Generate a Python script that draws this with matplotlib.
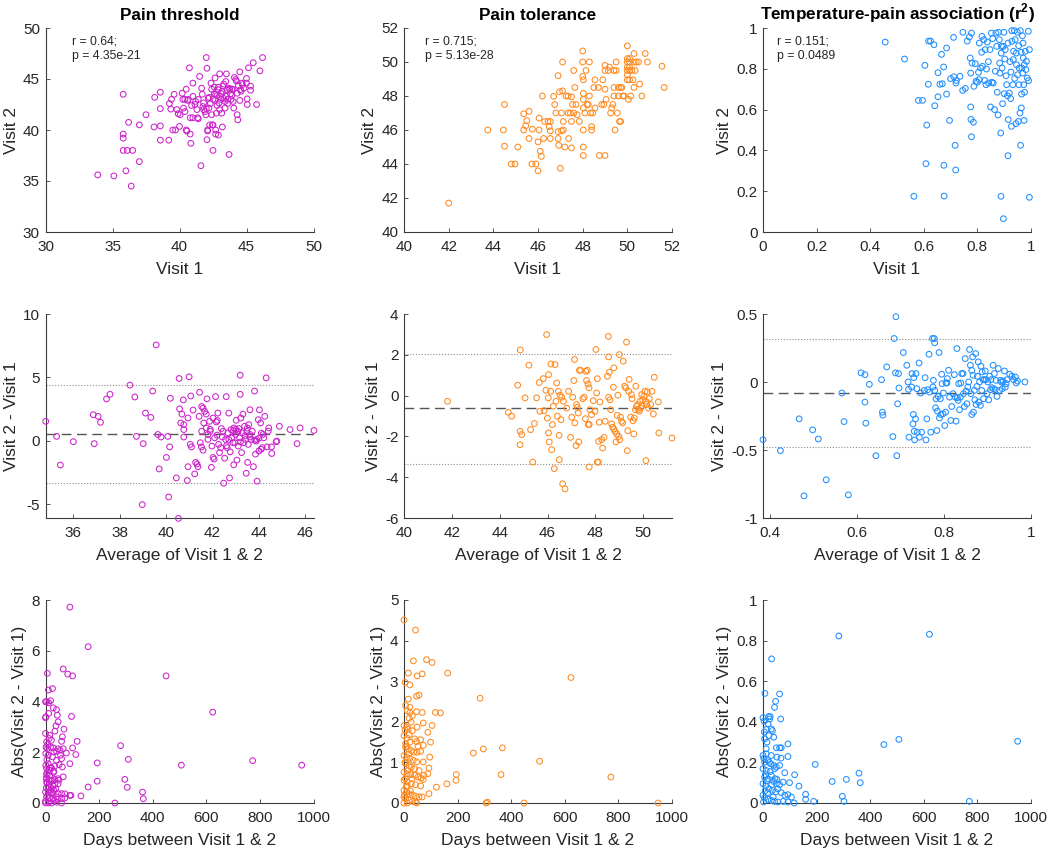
import numpy as np
import matplotlib
matplotlib.use("Agg")
import matplotlib.pyplot as plt
from matplotlib.ticker import FuncFormatter

# ---- data (x, y pairs) ----

# row 1: visit 1 vs visit 2
pt_visits = [
    (33.9, 35.6), (35.1, 35.5), (36.4, 34.5), (36.0, 36.0), (37.0, 36.9), (35.8, 43.5),
    (35.8, 39.6), (35.8, 39.2), (35.8, 38.0), (36.1, 38.0), (36.5, 38.0), (36.2, 40.75),
    (37.0, 40.5), (37.5, 41.5), (38.1, 40.3), (38.15, 43.2), (38.57, 43.7), (38.57, 42.1),
    (38.57, 40.4), (38.57, 39.0), (39.2, 39.0), (39.25, 42.6), (39.4, 43.0), (39.6, 43.5),
    (39.5, 40.0), (39.7, 40.0), (39.35, 42.05), (40.0, 40.35), (39.8, 42.0), (40.05, 41.5),
    (40.2, 43.6), (40.25, 43.0), (40.3, 42.15), (40.4, 43.0), (40.5, 44.0), (40.5, 40.0),
    (40.55, 39.9), (40.74, 46.1), (40.65, 43.0), (40.8, 41.2), (40.8, 39.6), (40.85, 38.7),
    (41.0, 43.3), (41.0, 44.6), (41.15, 42.5), (41.3, 42.0), (41.35, 41.2), (41.4, 43.0),
    (41.5, 45.25), (41.6, 36.5), (41.65, 44.1), (41.75, 42.3), (41.8, 42.65), (41.9, 41.8),
    (41.97, 41.5), (42.0, 47.1), (42.05, 46.05), (42.05, 39.05), (42.1, 39.9), (42.15, 43.1),
    (42.2, 42.15), (42.25, 40.5), (42.35, 44.6), (42.4, 44.0), (42.45, 40.5), (42.5, 38.0),
    (42.6, 43.55), (42.65, 45.1), (42.65, 42.9), (42.7, 40.0), (42.7, 39.6), (42.75, 41.65),
    (42.8, 43.4), (42.9, 43.95), (42.95, 42.65), (43.0, 45.5), (43.0, 43.3), (43.1, 43.0),
    (43.15, 41.65), (43.2, 43.8), (43.25, 44.3), (43.3, 43.1), (43.4, 42.15), (43.45, 44.75),
    (43.5, 45.5), (43.55, 43.95), (43.6, 43.0), (43.7, 37.6), (43.75, 44.0), (43.8, 43.55),
    (43.85, 43.0), (43.9, 44.0), (44.0, 42.8), (44.05, 42.15), (44.1, 45.15), (44.2, 44.95),
    (44.25, 44.8), (44.3, 41.5), (44.35, 41.0), (44.4, 44.35), (44.5, 45.7), (44.55, 43.95),
    (44.6, 43.8), (44.65, 44.6), (44.7, 44.45), (45.0, 45.05), (45.0, 44.6), (45.05, 43.05),
    (45.05, 42.5), (45.15, 46.1), (45.3, 44.3), (45.5, 46.6), (45.75, 42.5), (46.0, 45.8),
    (46.2, 47.1), (42.5, 43.0), (42.7, 43.5), (42.9, 44.2), (43.1, 43.6), (43.3, 44.5),
    (43.5, 43.3), (43.7, 44.1), (43.9, 43.4), (42.8, 42.4), (43.0, 42.0), (42.4, 41.5),
    (42.0, 42.1), (41.8, 42.0), (42.3, 42.6), (43.4, 42.8), (44.0, 44.0), (44.3, 43.6),
    (42.6, 44.2), (42.2, 43.2), (41.7, 43.5), (41.2, 42.8), (40.9, 42.4), (41.0, 41.2),
    (43.2, 40.3), (42.9, 39.5), (42.5, 40.5), (42.1, 40.0), (43.6, 42.6), (44.5, 42.9),
    (44.8, 44.1), (45.3, 43.9), (41.4, 41.1), (40.4, 41.8), (39.9, 41.6), (40.6, 42.9),
]

tol_visits = [
    (42.0, 41.7), (43.75, 46.0), (44.45, 46.0), (44.5, 47.5), (44.5, 45.05), (44.8, 44.0),
    (44.97, 44.0), (45.1, 45.0), (45.36, 46.95), (45.36, 46.0), (45.45, 46.25), (45.5, 46.55),
    (45.6, 47.1), (45.6, 45.5), (45.75, 46.05), (45.73, 44.0), (45.9, 44.0), (46.0, 43.6),
    (46.0, 45.3), (46.05, 46.7), (46.05, 46.0), (46.1, 44.75), (46.15, 44.45), (46.2, 48.0),
    (46.25, 45.5), (46.3, 46.5), (46.45, 46.5), (46.5, 46.2), (46.55, 45.5), (46.55, 45.95),
    (46.55, 46.5), (46.7, 47.98), (46.75, 47.5), (46.8, 47.0), (46.9, 49.2), (46.9, 45.9),
    (46.9, 45.5), (46.93, 45.1), (46.96, 48.25), (47.0, 43.75), (47.05, 47.0), (47.05, 45.95),
    (47.1, 50.0), (47.1, 48.3), (47.13, 46.5), (47.13, 46.0), (47.2, 45.0), (47.25, 48.0),
    (47.35, 48.0), (47.35, 47.0), (47.37, 45.5), (47.45, 47.0), (47.5, 47.95), (47.5, 46.5),
    (47.5, 44.95), (47.55, 47.5), (47.6, 49.5), (47.6, 47.0), (47.65, 48.5), (47.7, 47.5),
    (47.75, 46.9), (47.85, 46.5), (48.0, 50.65), (48.0, 50.0), (48.0, 49.15), (48.03, 48.95),
    (48.03, 48.15), (48.03, 47.8), (48.03, 47.3), (48.03, 46.0), (48.03, 45.0), (48.03, 44.5),
    (48.1, 47.0), (48.15, 49.5), (48.2, 47.5), (48.25, 47.5), (48.3, 50.0), (48.3, 48.0),
    (48.35, 47.0), (48.4, 46.2), (48.4, 46.0), (48.45, 47.0), (48.5, 48.5), (48.55, 47.3),
    (48.55, 48.95), (48.7, 48.5), (48.75, 44.5), (48.85, 47.5), (48.9, 48.95), (48.95, 47.5),
    (49.0, 44.5), (49.0, 49.8), (49.0, 49.5), (49.0, 48.4), (49.05, 47.8), (49.15, 49.5),
    (49.2, 49.7), (49.25, 47.0), (49.3, 47.3), (49.35, 47.5), (49.4, 48.0), (49.4, 49.5),
    (49.4, 48.5), (49.45, 46.0), (49.5, 49.5), (49.5, 50.0), (49.55, 47.0), (49.6, 48.5),
    (49.6, 48.0), (49.65, 46.5), (49.7, 48.5), (49.7, 46.5), (49.75, 48.5), (49.8, 48.0),
    (49.85, 48.0), (50.0, 50.95), (50.0, 50.2), (50.0, 50.0), (50.0, 49.7), (50.0, 49.5),
    (50.0, 49.25), (50.0, 48.95), (50.05, 47.8), (50.1, 50.2), (50.1, 50.0), (50.1, 49.7),
    (50.1, 49.5), (50.1, 48.95), (50.15, 48.0), (50.2, 49.5), (50.25, 48.95), (50.3, 50.5),
    (50.3, 48.5), (50.3, 50.0), (50.35, 49.5), (50.4, 50.0), (50.5, 50.0), (50.55, 48.7),
    (50.65, 48.0), (50.8, 50.5), (50.9, 50.0), (51.55, 49.75), (51.65, 48.5),
]

tmp_visits = [
    (0.456, 0.931), (0.528, 0.848), (0.580, 0.645), (0.595, 0.645), (0.563, 0.175), (0.604, 0.817),
    (0.608, 0.335), (0.611, 0.524), (0.617, 0.724), (0.618, 0.936), (0.625, 0.936), (0.638, 0.918),
    (0.641, 0.619), (0.653, 0.663), (0.653, 0.781), (0.660, 0.724), (0.666, 0.871), (0.669, 0.727),
    (0.674, 0.809), (0.675, 0.327), (0.676, 0.176), (0.685, 0.676), (0.685, 0.902), (0.696, 0.547),
    (0.700, 0.752), (0.711, 0.954), (0.712, 0.761), (0.717, 0.425), (0.719, 0.304), (0.720, 0.730),
    (0.722, 0.743), (0.735, 0.763), (0.745, 0.694), (0.746, 0.979), (0.755, 0.704), (0.762, 0.936),
    (0.770, 0.956), (0.773, 0.853), (0.775, 0.779), (0.775, 0.613), (0.776, 0.552), (0.778, 0.467),
    (0.778, 0.975), (0.780, 0.828), (0.785, 0.538), (0.787, 0.714), (0.792, 0.825), (0.795, 0.739),
    (0.800, 0.734), (0.804, 0.783), (0.807, 0.926), (0.807, 0.747), (0.812, 0.804), (0.816, 0.881),
    (0.817, 0.959), (0.819, 0.812), (0.824, 0.943), (0.827, 0.743), (0.829, 0.894), (0.832, 0.722),
    (0.834, 0.799), (0.837, 0.931), (0.841, 0.835), (0.842, 0.730), (0.847, 0.894), (0.849, 0.613),
    (0.852, 0.975), (0.854, 0.734), (0.857, 0.948), (0.859, 0.730), (0.864, 0.600), (0.867, 0.788),
    (0.869, 0.975), (0.872, 0.910), (0.874, 0.685), (0.877, 0.574), (0.879, 0.979), (0.882, 0.943),
    (0.883, 0.828), (0.884, 0.779), (0.887, 0.485), (0.888, 0.175), (0.889, 0.877), (0.890, 0.910),
    (0.892, 0.804), (0.894, 0.629), (0.897, 0.065), (0.897, 0.910), (0.899, 0.979), (0.900, 0.678),
    (0.902, 0.848), (0.904, 0.894), (0.907, 0.766), (0.909, 0.722), (0.912, 0.668), (0.914, 0.374),
    (0.914, 0.926), (0.915, 0.551), (0.919, 0.681), (0.922, 0.835), (0.924, 0.654), (0.925, 0.784),
    (0.927, 0.518), (0.928, 0.987), (0.929, 0.935), (0.932, 0.722), (0.934, 0.845), (0.935, 0.886),
    (0.938, 0.987), (0.939, 0.753), (0.941, 0.943), (0.944, 0.531), (0.945, 0.877), (0.946, 0.820),
    (0.949, 0.979), (0.950, 0.771), (0.953, 0.542), (0.954, 0.913), (0.955, 0.722), (0.956, 0.804),
    (0.959, 0.583), (0.960, 0.987), (0.961, 0.425), (0.963, 0.881), (0.964, 0.608), (0.965, 0.676),
    (0.966, 0.804), (0.968, 0.962), (0.969, 0.779), (0.970, 0.926), (0.971, 0.853), (0.973, 0.722),
    (0.974, 0.547), (0.975, 0.820), (0.976, 0.685), (0.979, 0.886), (0.981, 0.796), (0.983, 0.837),
    (0.986, 0.755), (0.990, 0.984), (0.991, 0.742), (0.994, 0.894), (0.994, 0.170),
]

# row 2: Bland-Altman (average, difference)
pt_ba = [
    (34.81, 1.53), (35.28, 0.34), (35.44, -1.92), (36.0, -0.08), (36.86, 2.05), (36.9, -0.23),
    (37.07, 1.92), (37.17, 1.45), (37.43, 3.30), (37.58, 3.66), (38.44, 4.39), (38.65, 3.45),
    (38.72, 0.34), (38.97, -5.04), (39.01, -0.23), (39.11, 2.18), (39.34, 1.84), (39.42, 3.92),
    (39.57, 7.56), (39.64, 0.49), (39.70, -2.23), (39.78, 0.29), (40.07, 0.34), (40.01, -1.32),
    (40.11, -4.44), (40.15, -0.49), (40.18, 3.35), (40.44, -2.94), (40.53, -6.13), (40.56, 4.91),
    (40.58, 2.52), (40.63, 1.40), (40.68, 2.10), (40.74, 3.22), (40.76, 1.27), (40.76, 0.88),
    (40.76, 0.29), (40.91, -3.14), (40.94, -2.05), (40.94, 1.79), (40.99, 5.04), (41.04, -0.29),
    (41.06, 3.53), (41.09, -0.49), (41.16, 2.42), (41.23, -2.62), (41.27, -1.71), (41.33, -1.84),
    (41.37, -2.05), (41.42, 1.92), (41.44, 3.82), (41.47, -0.16), (41.52, -0.49), (41.53, 2.70),
    (41.53, 0.75), (41.59, 2.57), (41.59, -0.75), (41.62, 1.40), (41.66, 2.31), (41.73, 2.10),
    (41.73, 1.01), (41.76, 3.30), (41.80, 0.10), (41.80, 0.49), (41.87, 1.53), (41.90, 0.75),
    (41.95, -2.10), (41.97, -0.42), (42.02, 1.79), (42.02, -1.32), (42.07, -1.45), (42.09, 0.23),
    (42.13, 3.48), (42.16, 1.48), (42.19, 0.44), (42.23, 2.18), (42.26, -0.29), (42.30, -0.94),
    (42.35, -0.55), (42.38, 0.96), (42.42, 0.29), (42.45, 0.75), (42.48, -3.35), (42.52, -1.38),
    (42.56, 0.10), (42.59, 3.48), (42.63, -0.55), (42.66, 0.62), (42.70, 2.18), (42.73, -2.94),
    (42.76, -0.88), (42.80, 0.88), (42.83, 0.23), (42.88, -0.16), (42.91, -1.90), (42.92, 1.01),
    (42.96, -0.16), (42.99, 0.49), (43.02, 1.61), (43.05, -1.53), (43.08, 0.75), (43.11, -0.42),
    (43.13, 0.96), (43.16, 0.23), (43.19, 3.66), (43.19, 5.17), (43.22, 1.79), (43.25, -0.94),
    (43.28, 0.62), (43.31, 2.10), (43.34, -0.16), (43.38, 1.14), (43.42, 0.10), (43.45, -2.57),
    (43.48, 0.75), (43.51, -1.71), (43.54, -0.29), (43.56, 1.27), (43.61, 2.44), (43.62, 0.49),
    (43.66, 0.10), (43.71, 0.75), (43.76, -2.05), (43.81, 3.92), (43.82, 0.03), (43.85, -1.06),
    (43.88, -0.03), (43.92, -3.19), (43.97, 1.66), (44.0, -0.81), (44.02, 2.44), (44.07, 1.40),
    (44.09, -0.68), (44.14, -0.55), (44.17, 0.49), (44.21, 0.23), (44.25, 1.92), (44.31, 4.96),
    (44.35, -0.49), (44.40, 0.75), (44.42, 1.01), (44.54, -0.49), (44.55, -1.01), (44.74, -0.08),
    (44.77, -0.03), (44.88, 1.14), (45.34, 0.88), (45.64, -0.23), (45.77, 1.01), (46.37, 0.81),
    (42.9, 0.8), (43.0, 0.9), (43.2, -0.1), (43.4, 0.4), (42.7, 0.1), (43.6, 0.3), (43.9, 0.1),
    (44.0, 0.2), (43.1, 0.7), (42.6, -0.4), (41.9, 0.9), (42.2, 1.6), (43.5, 1.0), (44.1, 0.6),
]

tol_ba = [
    (41.82, -0.28), (44.36, -0.82), (44.50, -1.01), (44.75, 0.51), (44.85, -2.41), (44.85, -1.75),
    (44.92, -1.91), (44.86, 2.24), (45.06, -0.11), (45.22, 1.49), (45.29, -1.67), (45.38, -3.26),
    (45.45, -1.37), (45.54, -0.11), (45.65, 0.64), (45.68, -0.77), (45.82, 0.83), (45.85, -0.74),
    (45.93, 0.26), (45.96, 2.99), (45.99, -1.10), (46.03, -0.11), (46.04, 1.03), (46.04, -1.83),
    (46.07, -2.27), (46.13, 0.21), (46.14, 1.55), (46.17, -2.65), (46.20, -1.42), (46.24, -0.52),
    (46.28, -3.58), (46.31, 1.52), (46.35, -0.28), (46.38, 0.62), (46.41, -1.01), (46.45, 0.21),
    (46.48, -1.95), (46.49, -3.14), (46.52, 0.02), (46.56, -1.18), (46.59, -0.08), (46.63, -4.32),
    (46.66, -0.28), (46.73, -4.57), (46.80, -0.61), (46.88, 0.21), (46.96, -2.05), (47.01, -1.06),
    (47.05, -0.08), (47.10, 0.74), (47.13, 1.77), (47.14, -1.34), (47.19, -2.45), (47.21, -0.44),
    (47.24, -0.57), (47.28, -0.85), (47.30, -2.27), (47.33, 1.24), (47.38, 1.24), (47.47, -0.15),
    (47.53, -0.08), (47.58, -1.13), (47.60, 1.19), (47.63, 0.74), (47.66, 1.24), (47.69, 0.57),
    (47.70, -1.42), (47.73, 0.38), (47.74, -1.42), (47.74, -3.50), (47.77, -0.69), (47.84, -0.93),
    (47.91, -0.25), (47.98, -0.77), (48.02, 2.26), (48.05, 0.13), (48.08, -3.26), (48.12, -3.26),
    (48.08, 0.83), (48.13, -2.24), (48.16, -1.31), (48.19, -0.31), (48.26, -2.16), (48.30, -2.57),
    (48.36, -2.05), (48.41, -1.26), (48.50, 0.95), (48.54, 2.90), (48.55, 1.90), (48.55, -0.08),
    (48.58, 1.15), (48.61, -0.20), (48.64, -0.69), (48.68, -1.39), (48.72, -1.55), (48.75, 0.41),
    (48.77, 1.36), (48.77, -1.64), (48.82, -1.75), (48.86, -2.27), (48.89, -1.88), (48.91, -0.97),
    (48.94, 0.02), (48.97, -2.00), (49.0, 2.01), (49.02, -2.16), (49.05, -1.06), (49.09, -1.26),
    (49.14, -1.34), (49.16, 1.69), (49.22, 0.46), (49.27, 0.38), (49.30, 2.62), (49.33, -2.70),
    (49.35, -1.72), (49.39, 0.21), (49.41, 0.79), (49.47, -1.06), (49.50, 0.05), (49.53, -0.15),
    (49.57, -1.23), (49.60, -1.88), (49.62, -1.10), (49.67, -0.69), (49.69, 0.46), (49.72, -0.52),
    (49.76, -0.44), (49.80, -0.69), (49.83, -0.77), (49.86, -0.28), (49.89, -0.61), (49.93, 0.05),
    (49.94, -0.52), (49.97, -0.20), (50.03, -0.03), (50.07, 0.21), (50.11, -0.28), (50.11, -3.19),
    (50.14, -0.44), (50.17, 0.18), (50.21, -0.61), (50.25, -0.15), (50.31, -0.44), (50.36, 0.21),
    (50.42, -0.90), (50.46, 0.90), (50.63, -0.31), (50.65, -1.83), (51.20, -2.08),
]

tmp_ba = [
    (0.385, -0.424), (0.425, -0.505), (0.468, -0.271), (0.479, -0.837), (0.499, -0.352), (0.512, -0.419),
    (0.530, -0.719), (0.566, -0.081), (0.571, -0.291), (0.581, -0.830), (0.610, 0.067), (0.619, 0.054),
    (0.619, -0.148), (0.621, -0.303), (0.629, -0.017), (0.644, -0.542), (0.657, 0.017), (0.659, -0.222),
    (0.660, -0.244), (0.669, 0.111), (0.683, -0.401), (0.686, 0.320), (0.689, 0.067), (0.690, 0.480),
    (0.692, -0.542), (0.694, -0.160), (0.696, 0.062), (0.697, -0.044), (0.707, 0.217), (0.715, 0.123),
    (0.718, 0.0), (0.719, -0.054), (0.720, -0.406), (0.726, -0.037), (0.727, 0.062), (0.729, -0.308),
    (0.730, -0.239), (0.731, 0.032), (0.732, -0.362), (0.733, -0.426), (0.735, -0.271), (0.736, 0.062),
    (0.738, -0.049), (0.739, -0.369), (0.743, 0.140), (0.744, -0.406), (0.747, -0.081), (0.749, -0.369),
    (0.755, -0.062), (0.757, 0.032), (0.759, -0.426), (0.761, -0.271), (0.763, -0.057), (0.766, 0.204),
    (0.767, -0.074), (0.770, -0.369), (0.774, 0.320), (0.775, -0.037), (0.776, 0.012), (0.778, 0.320),
    (0.779, 0.288), (0.779, -0.062), (0.781, -0.190), (0.782, -0.123), (0.784, -0.357), (0.785, -0.214),
    (0.787, -0.106), (0.789, 0.217), (0.790, -0.264), (0.792, -0.123), (0.793, -0.239), (0.795, 0.057),
    (0.796, -0.012), (0.798, -0.234), (0.799, -0.081), (0.802, -0.320), (0.804, -0.222), (0.805, -0.007),
    (0.807, -0.007), (0.808, 0.025), (0.811, 0.086), (0.813, -0.111), (0.816, -0.283), (0.818, -0.180),
    (0.821, -0.086), (0.824, 0.054), (0.826, -0.111), (0.828, -0.288), (0.830, 0.246), (0.831, -0.116),
    (0.833, -0.135), (0.834, -0.012), (0.836, -0.204), (0.838, -0.111), (0.839, -0.007), (0.841, 0.062),
    (0.844, 0.062), (0.845, -0.086), (0.847, -0.180), (0.849, 0.172), (0.851, -0.067), (0.853, -0.160),
    (0.855, -0.037), (0.857, 0.0), (0.859, 0.239), (0.861, 0.123), (0.862, -0.086), (0.864, -0.239),
    (0.864, 0.086), (0.866, 0.185), (0.867, 0.049), (0.868, -0.222), (0.870, -0.062), (0.871, -0.131),
    (0.873, 0.209), (0.874, -0.165), (0.876, -0.032), (0.877, 0.042), (0.879, 0.148), (0.880, -0.148),
    (0.882, 0.0), (0.884, -0.172), (0.885, 0.116), (0.887, -0.062), (0.888, 0.074), (0.890, 0.017),
    (0.891, -0.123), (0.893, 0.017), (0.895, 0.081), (0.897, 0.017), (0.899, -0.086), (0.901, 0.0),
    (0.903, -0.131), (0.905, 0.042), (0.907, -0.057), (0.908, 0.017), (0.910, -0.042), (0.913, 0.123),
    (0.914, -0.049), (0.916, 0.062), (0.918, -0.057), (0.920, 0.012), (0.922, -0.106), (0.925, 0.099),
    (0.928, -0.062), (0.930, 0.012), (0.932, 0.0), (0.934, -0.049), (0.936, 0.007), (0.939, 0.081),
    (0.941, -0.037), (0.943, -0.012), (0.945, 0.017), (0.951, 0.057), (0.956, 0.042), (0.960, 0.017),
    (0.964, 0.037), (0.966, -0.007), (0.969, 0.007), (0.986, 0.0),
]

# bias and limits of agreement (mean, lower, upper)
pt_limits = (0.55, -3.35, 4.39)
tol_limits = (-0.62, -3.34, 2.06)
tmp_limits = (-0.084, -0.475, 0.313)

# row 3: days between visits vs absolute difference
pt_days = [
    (91, 7.72), (159, 6.16), (66, 5.28), (83, 5.08), (101, 5.01), (7, 5.11), (450, 5.01), (26, 4.51),
    (11, 4.45), (624, 3.58), (97, 3.41), (0, 3.99), (4, 3.99), (12, 3.95), (19, 4.03), (0, 3.36),
    (1, 3.39), (41, 3.68), (29, 3.75), (44, 3.46), (12, 3.53), (47, 3.20), (39, 3.04), (69, 2.91),
    (35, 2.83), (0, 2.74), (16, 2.67), (14, 2.54), (22, 2.47), (63, 2.61), (60, 2.43), (118, 2.43),
    (280, 2.26), (4, 2.41), (7, 2.14), (19, 2.21), (29, 2.17), (47, 2.14), (66, 2.14), (101, 2.17),
    (31, 2.01), (41, 2.04), (54, 2.08), (1, 1.95), (10, 1.88), (26, 1.82), (56, 1.88), (78, 1.97),
    (113, 1.91), (60, 1.75), (41, 1.68), (309, 1.72), (193, 1.58), (91, 1.55), (507, 1.49), (773, 1.67),
    (956, 1.49), (1, 1.49), (10, 1.55), (22, 1.38), (35, 1.46), (51, 1.51), (63, 1.42), (4, 1.36),
    (16, 1.29), (31, 1.25), (4, 1.16), (16, 1.09), (66, 1.03), (47, 0.96), (35, 0.93), (4, 0.96),
    (22, 0.86), (296, 0.93), (193, 0.86), (4, 0.83), (14, 0.76), (35, 0.76), (47, 0.76), (29, 0.67),
    (10, 0.63), (22, 0.57), (159, 0.63), (305, 0.62), (0, 0.43), (10, 0.43), (22, 0.43), (31, 0.50),
    (47, 0.37), (60, 0.37), (72, 0.36), (91, 0.30), (95, 0.30), (362, 0.43), (132, 0.28), (365, 0.17),
    (4, 0.24), (16, 0.20), (29, 0.17), (41, 0.24), (60, 0.17), (72, 0.20), (0, 0.0), (10, 0.01),
    (22, 0.0), (41, 0.03), (60, 0.0), (259, 0.0), (0, 0.07), (3, 0.6), (6, 1.1), (8, 0.3), (12, 1.3),
    (18, 0.5), (25, 0.9), (28, 0.4), (33, 0.1), (38, 0.55), (45, 0.15), (50, 0.9), (8, 2.3), (2, 2.2),
    (5, 1.7), (20, 1.4), (13, 0.9), (30, 1.2), (6, 0.8), (3, 1.0),
]

tol_days = [
    (0, 4.51), (43, 4.26), (35, 3.50), (84, 3.53), (105, 3.46), (163, 3.20), (16, 3.20), (49, 3.13),
    (68, 3.18), (623, 3.09), (4, 2.97), (22, 2.91), (47, 2.63), (56, 2.66), (16, 2.56), (284, 2.58),
    (6, 2.40), (22, 2.36), (12, 2.27), (22, 2.23), (31, 2.15), (47, 2.25), (68, 2.23), (117, 2.23),
    (136, 2.22), (19, 2.09), (27, 1.99), (72, 1.97), (105, 1.91), (49, 1.87), (0, 1.91), (10, 1.87),
    (16, 1.82), (31, 1.78), (89, 1.74), (0, 1.66), (19, 1.68), (40, 1.58), (62, 1.56), (99, 1.50),
    (47, 1.51), (22, 1.50), (6, 1.46), (72, 1.42), (52, 1.40), (296, 1.33), (367, 1.36), (259, 1.23),
    (6, 1.37), (16, 1.33), (27, 1.29), (37, 1.25), (49, 1.25), (62, 1.27), (96, 1.13), (506, 1.03),
    (0, 1.17), (10, 1.13), (22, 1.10), (35, 1.05), (47, 1.01), (72, 1.01), (93, 0.86), (6, 0.97),
    (19, 0.92), (27, 0.88), (40, 0.84), (56, 0.80), (89, 0.72), (74, 0.68), (195, 0.70), (362, 0.70),
    (772, 0.64), (0, 0.76), (12, 0.72), (25, 0.70), (40, 0.68), (52, 0.64), (64, 0.61), (72, 0.58),
    (194, 0.56), (160, 0.47), (121, 0.39), (0, 0.56), (12, 0.52), (27, 0.47), (43, 0.45), (62, 0.42),
    (12, 0.42), (93, 0.23), (68, 0.15), (0, 0.31), (10, 0.27), (19, 0.23), (31, 0.20), (43, 0.17),
    (56, 0.15), (0, 0.15), (6, 0.11), (19, 0.07), (31, 0.04), (43, 0.02), (12, 0.0), (0, 0.0),
    (306, 0.0), (311, 0.02), (448, 0.0), (948, 0.0), (47, 0.0), (3, 1.0), (8, 0.4), (14, 0.8),
    (5, 0.6), (17, 1.2), (9, 1.4), (24, 0.3), (30, 0.6), (2, 0.2), (11, 1.6), (4, 1.8),
]

tmp_days = [
    (283, 0.823), (621, 0.831), (32, 0.710), (7, 0.540), (62, 0.537), (47, 0.501), (43, 0.471),
    (66, 0.414), (21, 0.426), (25, 0.414), (27, 0.426), (19, 0.390), (12, 0.362), (4, 0.403),
    (31, 0.365), (0, 0.420), (35, 0.357), (40, 0.324), (22, 0.332), (6, 0.316), (93, 0.291),
    (50, 0.272), (62, 0.272), (68, 0.272), (451, 0.288), (507, 0.313), (950, 0.304), (12, 0.267),
    (93, 0.229), (67, 0.221), (52, 0.226), (31, 0.234), (12, 0.242), (0, 0.234), (6, 0.201),
    (19, 0.209), (29, 0.193), (40, 0.185), (50, 0.177), (62, 0.185), (195, 0.190), (43, 0.169),
    (27, 0.155), (12, 0.160), (0, 0.169), (81, 0.149), (118, 0.139), (358, 0.147), (311, 0.116),
    (258, 0.106), (363, 0.100), (99, 0.100), (75, 0.103), (52, 0.116), (134, 0.083), (6, 0.128),
    (19, 0.119), (31, 0.136), (40, 0.106), (50, 0.095), (62, 0.090), (0, 0.095), (10, 0.083),
    (22, 0.070), (35, 0.062), (47, 0.054), (68, 0.051), (81, 0.038), (93, 0.041), (106, 0.029),
    (159, 0.043), (159, 0.018), (296, 0.033), (302, 0.008), (189, 0.008), (116, 0.0), (770, 0.008),
    (0, 0.038), (6, 0.025), (19, 0.018), (31, 0.013), (43, 0.008), (56, 0.005), (2, 0.005),
    (75, 0.008), (93, 0.005), (3, 0.22), (8, 0.06), (14, 0.11), (17, 0.05), (24, 0.2), (9, 0.14),
    (33, 0.09), (45, 0.12), (55, 0.07), (38, 0.03), (15, 0.3), (5, 0.35),
]

titles = ["Pain threshold", "Pain tolerance", "Temperature-pain association (r$^{\\mathbf{2}}$)"]
stats = ["r = 0.64;\np = 4.35e-21", "r = 0.715;\np = 5.13e-28", "r = 0.151;\np = 0.0489"]
colors = ["#CC22CC", "#FF8A1F", "#1F8FFF"]

# ---- style ----
plt.rcParams["font.family"] = ["Liberation Sans", "DejaVu Sans"]
plt.rcParams["mathtext.fontset"] = "custom"
plt.rcParams["mathtext.rm"] = "Liberation Sans"
plt.rcParams["mathtext.bf"] = "Liberation Sans:bold"
plt.rcParams["axes.unicode_minus"] = False

axis_color = "#3a3a3a"

fig = plt.figure(figsize=(10.5, 8.51), dpi=100)
W, H = 1050, 851
col_left = [45.5, 404, 763]
col_width = 268
row_span = [(28, 232), (314, 518), (600, 803)]


def make_axes(row, col):
    top, bottom = row_span[row]
    rect = [col_left[col] / W, 1 - bottom / H, col_width / W, (bottom - top) / H]
    ax = fig.add_axes(rect)
    for side in ["top", "right"]:
        ax.spines[side].set_visible(False)
    for side in ["left", "bottom"]:
        ax.spines[side].set_color(axis_color)
        ax.spines[side].set_linewidth(0.8)
    ax.tick_params(direction="in", length=3, width=0.6, colors=axis_color,
                   labelsize=11, labelcolor="#262626")
    ax.tick_params(axis="x", pad=5.5)
    ax.tick_params(axis="y", pad=4)
    fmt = FuncFormatter(lambda v, pos: "{:g}".format(round(v, 6)))
    ax.xaxis.set_major_formatter(fmt)
    ax.yaxis.set_major_formatter(fmt)
    return ax


def scatter(ax, pairs, color):
    pts = np.array(pairs)
    ax.scatter(pts[:, 0], pts[:, 1], s=17, facecolors="none", edgecolors=color,
               linewidths=0.75, clip_on=False, zorder=3)


label_kw = dict(fontsize=12.5, color="#262626")

# row 1
row1 = [pt_visits, tol_visits, tmp_visits]
row1_lims = [(30, 50, 5), (40, 52, 2), (0, 1, 0.2)]
stat_x = [0.10, 0.078, 0.051]
for c in range(3):
    ax = make_axes(0, c)
    scatter(ax, row1[c], colors[c])
    lo, hi, step = row1_lims[c]
    ticks = np.arange(lo, hi + step / 2, step)
    ax.set_xlim(lo, hi)
    ax.set_ylim(lo, hi)
    ax.set_xticks(ticks)
    ax.set_yticks(ticks)
    ax.set_xlabel("Visit 1", labelpad=6, **label_kw)
    ax.set_ylabel("Visit 2", labelpad=3, **label_kw)
    ax.set_title(titles[c], fontsize=12.3, fontweight="bold", pad=6)
    ax.text(stat_x[c], 0.965, stats[c], transform=ax.transAxes, fontsize=8.8,
            va="top", ha="left", color="#262626", linespacing=1.3)

# row 2
row2 = [pt_ba, tol_ba, tmp_ba]
row2_limits = [pt_limits, tol_limits, tmp_limits]
row2_xlim = [(34.8, 46.35), (40, 51.2), (0.385, 1.0)]
row2_ylim = [(-6.1, 10), (-6, 4), (-1, 0.5)]
row2_xticks = [[36, 38, 40, 42, 44, 46], [40, 42, 44, 46, 48, 50], [0.4, 0.6, 0.8, 1.0]]
row2_yticks = [[-5, 0, 5, 10], [-6, -4, -2, 0, 2, 4], [-1, -0.5, 0, 0.5]]
for c in range(3):
    ax = make_axes(1, c)
    mean, lower, upper = row2_limits[c]
    ax.axhline(mean, color="#555555", lw=1.0, linestyle=(0, (7, 4)), zorder=2)
    ax.axhline(upper, color="#8c8c8c", lw=0.8, linestyle=(0, (1, 1.6)), zorder=2)
    ax.axhline(lower, color="#8c8c8c", lw=0.8, linestyle=(0, (1, 1.6)), zorder=2)
    scatter(ax, row2[c], colors[c])
    ax.set_xlim(*row2_xlim[c])
    ax.set_ylim(*row2_ylim[c])
    ax.set_xticks(row2_xticks[c])
    ax.set_yticks(row2_yticks[c])
    ax.set_xlabel("Average of Visit 1 & 2", labelpad=6, **label_kw)
    ax.set_ylabel("Visit 2 - Visit 1", labelpad=3, **label_kw)

# row 3
row3 = [pt_days, tol_days, tmp_days]
row3_ylim = [(0, 8, 2), (0, 5, 1), (0, 1, 0.2)]
for c in range(3):
    ax = make_axes(2, c)
    scatter(ax, row3[c], colors[c])
    lo, hi, step = row3_ylim[c]
    ax.set_xlim(0, 1000)
    ax.set_ylim(lo, hi)
    ax.set_xticks(np.arange(0, 1001, 200))
    ax.set_yticks(np.arange(lo, hi + step / 2, step))
    ax.set_xlabel("Days between Visit 1 & 2", labelpad=6, **label_kw)
    ax.set_ylabel("Abs(Visit 2 - Visit 1)", labelpad=3, **label_kw)

fig.savefig("out.png", dpi=100)
